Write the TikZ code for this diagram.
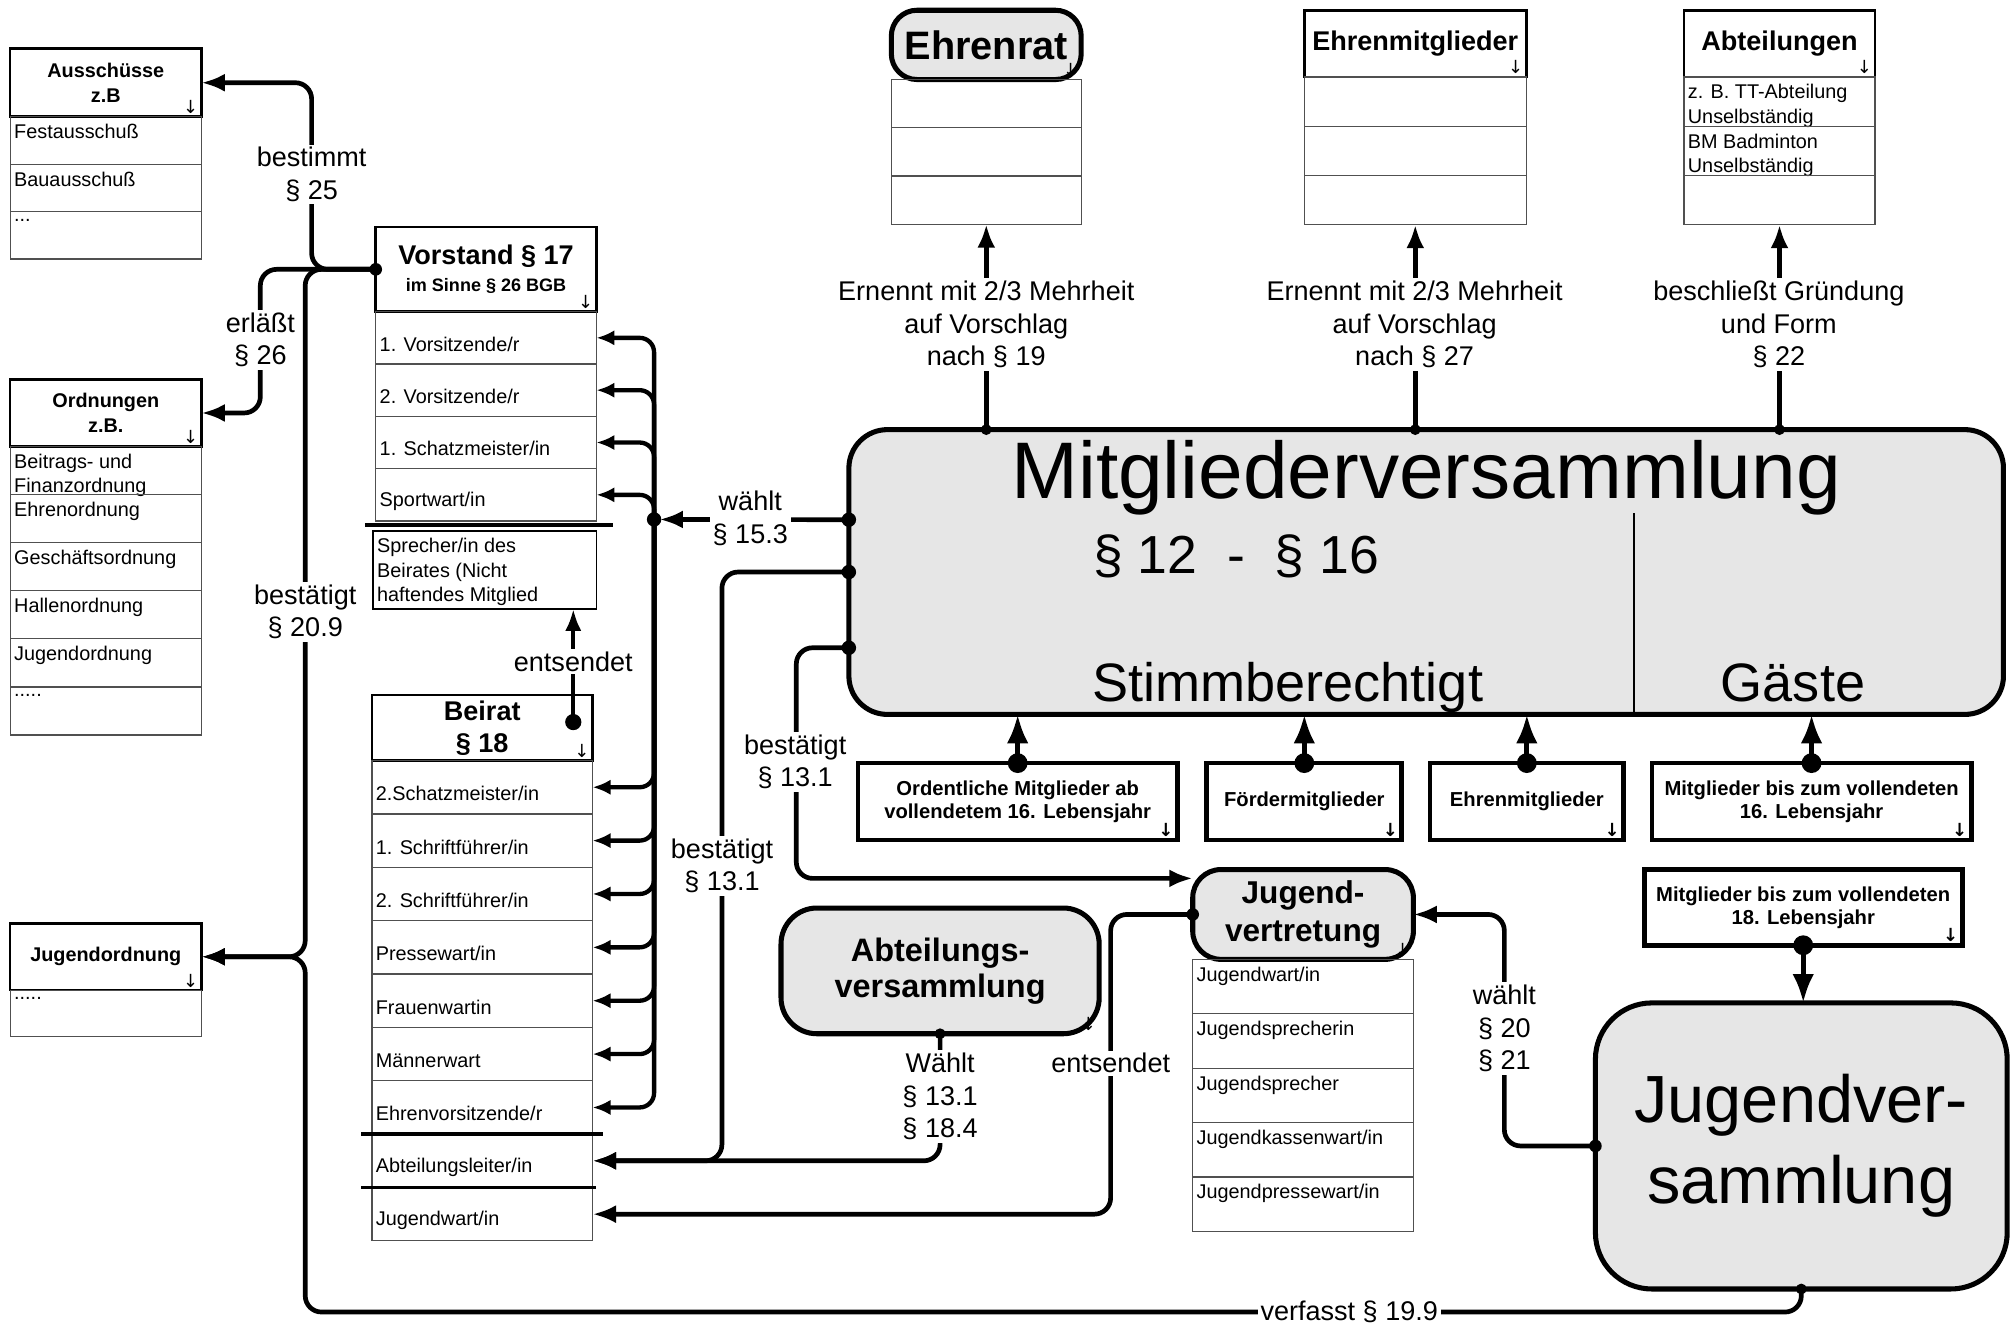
\documentclass[tikz,border=0pt]{standalone}
\usepackage{fontspec}
\setmainfont{Liberation Sans}
\newfontfamily\symb{DejaVu Sans}
\usepackage{xcolor}
\definecolor{boxgray}{RGB}{230,230,230}
\definecolor{rowline}{RGB}{80,80,80}
\usetikzlibrary{arrows.meta}
\usetikzlibrary{positioning}

\begin{document}
\begin{tikzpicture}[x=0.025cm, y=-0.025cm,
  hdr/.style={draw, line width=1.4pt, fill=white, outer sep=0pt, inner sep=2pt, align=center, font=\bfseries\fontsize{11}{13.5}\selectfont, downmark},
  row/.style={draw=rowline, line width=0.7pt, outer sep=0pt, inner sep=0pt, minimum width=#1},
  toptxt/.style={label={[anchor=north west, inner sep=2pt, yshift=-2pt, align=left, font=\fontsize{11}{13.5}\selectfont]north west:#1}},
  midtxt/.style={label={[anchor=west, inner sep=2pt, yshift=-3.5pt, align=left, font=\fontsize{11}{13.5}\selectfont]west:#1}},
  downmark/.style={label={[anchor=south east, inner sep=1.5pt, font=\symb\fontsize{10}{10}\selectfont]south east:↓}},
  grp/.style={draw, line width=2.8pt, fill=boxgray, outer sep=0pt, rounded corners=#1, align=center},
  member/.style={draw, line width=2.6pt, fill=white, outer sep=0pt, align=center, font=\bfseries\fontsize{11.2}{12.8}\selectfont, label={[anchor=south east, inner sep=2pt, font=\symb\bfseries\fontsize{10}{10}\selectfont]south east:↓}},
  lbl/.style={fill=white, inner sep=1.5pt, align=center, font=\fontsize{15}{18}\selectfont},
  conn/.style={line width=2.6pt, rounded corners=9pt, -{Latex[length=13pt,width=10pt]}},
  rowconn/.style={line width=2.4pt, rounded corners=8pt, -{Latex[length=10pt,width=8.5pt]}},
  bigconn/.style={line width=2.8pt, -{Latex[length=16pt,width=12pt]}},
  sepline/.style={line width=2.2pt}
]
\useasboundingbox (0,0) rectangle (1568,1035);

% Ausschuesse
\node[hdr, minimum width=3.725cm, minimum height=1.325cm] (aus) at (82.5,64.5) {Ausschüsse\\z.B};
\node[row=3.725cm, minimum height=0.925cm, toptxt=Festausschuß, below=0pt of aus] (aus1) {};
\node[row=3.725cm, minimum height=0.925cm, toptxt=Bauausschuß, below=0pt of aus1] (aus2) {};
\node[row=3.725cm, minimum height=0.925cm, toptxt=..., below=0pt of aus2] (aus3) {};

% Ordnungen
\node[hdr, minimum width=3.725cm, minimum height=1.3cm] (ord) at (82.5,322) {Ordnungen\\z.B.};
\node[row=3.725cm, minimum height=0.9375cm, toptxt={Beitrags- und\\Finanzordnung}, below=0pt of ord] (ord1) {};
\node[row=3.725cm, minimum height=0.9375cm, toptxt=Ehrenordnung, below=0pt of ord1] (ord2) {};
\node[row=3.725cm, minimum height=0.9375cm, toptxt=Geschäftsordnung, below=0pt of ord2] (ord3) {};
\node[row=3.725cm, minimum height=0.9375cm, toptxt=Hallenordnung, below=0pt of ord3] (ord4) {};
\node[row=3.725cm, minimum height=0.9375cm, toptxt=Jugendordnung, below=0pt of ord4] (ord5) {};
\node[row=3.725cm, minimum height=0.9375cm, toptxt=....., below=0pt of ord5] (ord6) {};

% Jugendordnung
\node[hdr, minimum width=3.725cm, minimum height=1.3cm] (jo) at (82.5,746) {Jugendordnung};
\node[row=3.725cm, minimum height=0.9cm, toptxt=....., below=0pt of jo] (jo1) {};

% Vorstand
\node[hdr, minimum width=4.3cm, minimum height=1.65cm, font=\bfseries\fontsize{15}{15}\selectfont] (vor) at (379,210) {Vorstand § 17\\{\fontsize{10}{12}\selectfont im Sinne § 26 BGB}};
\node[row=4.3cm, minimum height=1.02cm, midtxt=1. Vorsitzende/r, below=0pt of vor] (vor1) {};
\node[row=4.3cm, minimum height=1.02cm, midtxt=2. Vorsitzende/r, below=0pt of vor1] (vor2) {};
\node[row=4.3cm, minimum height=1.02cm, midtxt=1. Schatzmeister/in, below=0pt of vor2] (vor3) {};
\node[row=4.3cm, minimum height=1.02cm, midtxt=Sportwart/in, below=0pt of vor3] (vor4) {};
\draw[sepline] ([shift={(-6pt,-2pt)}]vor4.south west) -- ([shift={(9pt,-2pt)}]vor4.south east);
\node[row=4.35cm, minimum height=1.525cm, draw=black, line width=1pt, toptxt={Sprecher/in des\\Beirates (Nicht\\haftendes Mitglied}] (spr) at (378,444.5) {};

% Beirat
\node[hdr, minimum width=4.3cm, minimum height=1.275cm, font=\bfseries\fontsize{15}{17.8}\selectfont] (bei) at (376,567.5) {Beirat\\§ 18};
\node[row=4.3cm, minimum height=1.04cm, midtxt=2.Schatzmeister/in, below=0pt of bei] (bei1) {};
\node[row=4.3cm, minimum height=1.04cm, midtxt=1. Schriftführer/in, below=0pt of bei1] (bei2) {};
\node[row=4.3cm, minimum height=1.04cm, midtxt=2. Schriftführer/in, below=0pt of bei2] (bei3) {};
\node[row=4.3cm, minimum height=1.04cm, midtxt=Pressewart/in, below=0pt of bei3] (bei4) {};
\node[row=4.3cm, minimum height=1.04cm, midtxt=Frauenwartin, below=0pt of bei4] (bei5) {};
\node[row=4.3cm, minimum height=1.04cm, midtxt=Männerwart, below=0pt of bei5] (bei6) {};
\node[row=4.3cm, minimum height=1.04cm, midtxt=Ehrenvorsitzende/r, below=0pt of bei6] (bei7) {};
\node[row=4.3cm, minimum height=1.04cm, midtxt=Abteilungsleiter/in, below=0pt of bei7] (bei8) {};
\node[row=4.3cm, minimum height=1.04cm, midtxt=Jugendwart/in, below=0pt of bei8] (bei9) {};
\draw[sepline] ([xshift=-6pt]bei7.south west) -- ([xshift=6pt]bei7.south east);
\draw[sepline] ([xshift=-6pt]bei8.south west) -- ([xshift=2pt]bei8.south east);

% top row
\node[grp=0.5cm, minimum width=3.7cm, minimum height=1.35cm, font=\bfseries\fontsize{22}{24}\selectfont, downmark] (ehr) at (769,35) {Ehrenrat};
\node[row=3.7cm, minimum height=0.94cm, below=0pt of ehr] (ehr1) {};
\node[row=3.7cm, minimum height=0.94cm, below=0pt of ehr1] (ehr2) {};
\node[row=3.7cm, minimum height=0.94cm, below=0pt of ehr2] (ehr3) {};

\node[hdr, minimum width=4.325cm, minimum height=1.3cm, font=\bfseries\fontsize{15}{17}\selectfont] (ehm) at (1103.5,34) {Ehrenmitglieder};
\node[row=4.325cm, minimum height=0.96cm, below=0pt of ehm] (ehm1) {};
\node[row=4.325cm, minimum height=0.96cm, below=0pt of ehm1] (ehm2) {};
\node[row=4.325cm, minimum height=0.96cm, below=0pt of ehm2] (ehm3) {};

\node[hdr, minimum width=3.725cm, minimum height=1.3cm, font=\bfseries\fontsize{15}{17}\selectfont] (abt) at (1387.5,34) {Abteilungen};
\node[row=3.725cm, minimum height=0.96cm, toptxt={z. B. TT-Abteilung\\Unselbständig}, below=0pt of abt] (abt1) {};
\node[row=3.725cm, minimum height=0.96cm, toptxt={BM Badminton\\Unselbständig}, below=0pt of abt1] (abt2) {};
\node[row=3.725cm, minimum height=0.96cm, below=0pt of abt2] (abt3) {};

% Mitgliederversammlung
\node[grp=0.75cm, minimum width=22.5cm, minimum height=5.55cm] (mv) at (1112,446) {};
\node[inner sep=0pt, anchor=base, font=\fontsize{44.5}{50}\selectfont] (mvtitle) at (1112,389) {Mitgliederversammlung};
\node[inner sep=0pt, anchor=base west, font=\fontsize{29.7}{32}\selectfont] (mvpar) at (852,447) {§ 12\ \ -\ \ § 16};
\node[inner sep=0pt, anchor=base, font=\fontsize{30}{32}\selectfont] (mvstimm) at (1004,547) {Stimmberechtigt};
\node[inner sep=0pt, anchor=base, font=\fontsize{30}{32}\selectfont] (mvgast) at (1398,547) {Gäste};
\draw[line width=0.9pt] (1274,400) -- (1274,557);

% Mitglieder
\node[member, minimum width=6.225cm, minimum height=1.5cm] (om) at (793.5,625) {Ordentliche Mitglieder ab\\vollendetem 16. Lebensjahr};
\node[member, minimum width=3.8cm, minimum height=1.5cm] (fm) at (1017,625) {Fördermitglieder};
\node[member, minimum width=3.775cm, minimum height=1.5cm] (em) at (1190.5,625) {Ehrenmitglieder};
\node[member, minimum width=6.225cm, minimum height=1.5cm] (mg16) at (1412.5,625) {Mitglieder bis zum vollendeten\\16. Lebensjahr};
\node[member, minimum width=6.2cm, minimum height=1.475cm] (mg18) at (1406,707.5) {Mitglieder bis zum vollendeten\\18. Lebensjahr};

% Jugend
\node[grp=1.1cm, minimum width=8.025cm, minimum height=5.575cm, font=\fontsize{37}{44.8}\selectfont] (jvs) at (1404.5,893.5) {Jugendver-\\sammlung};
\node[grp=0.55cm, minimum width=4.3cm, minimum height=1.75cm, font=\bfseries\fontsize{17.5}{20.6}\selectfont, downmark] (jvt) at (1016,713) {Jugend-\\vertretung};
\node[row=4.3cm, minimum height=1.06cm, toptxt=Jugendwart/in, below=0pt of jvt] (jvt1) {};
\node[row=4.3cm, minimum height=1.06cm, toptxt=Jugendsprecherin, below=0pt of jvt1] (jvt2) {};
\node[row=4.3cm, minimum height=1.06cm, toptxt=Jugendsprecher, below=0pt of jvt2] (jvt3) {};
\node[row=4.3cm, minimum height=1.06cm, toptxt=Jugendkassenwart/in, below=0pt of jvt3] (jvt4) {};
\node[row=4.3cm, minimum height=1.06cm, toptxt=Jugendpressewart/in, below=0pt of jvt4] (jvt5) {};
\node[grp=0.7cm, minimum width=6.2cm, minimum height=2.45cm, font=\bfseries\fontsize{18}{20}\selectfont, downmark] (av) at (733,757) {Abteilungs-\\versammlung};

% Vorstand nach links
\draw[conn] (vor.west) -- ++(-50,0) |- (aus.east);
\draw[conn] (vor.west) -- ++(-90,0) |- (ord.east);
\draw[conn] (vor.west) -- ++(-55,0) |- (jo.east);
\coordinate (vbend) at (238,1023);
\draw[conn] (jvs.south) |- (vbend) |- (jo.east);
\fill (vor.west) circle (3.5pt);
\fill (jvs.south) circle (3pt);

% waehlt
\coordinate (bus) at (510,405);
\draw[conn, shorten >=3pt] ([yshift=29pt]mv.west) -- (bus);
\draw[rowconn] (bus) |- (vor1.east);
\draw[rowconn] (bus) |- (vor2.east);
\draw[rowconn] (bus) |- (vor3.east);
\draw[rowconn] (bus) |- (vor4.east);
\draw[rowconn] (bus) |- (bei1.east);
\draw[rowconn] (bus) |- (bei2.east);
\draw[rowconn] (bus) |- (bei3.east);
\draw[rowconn] (bus) |- (bei4.east);
\draw[rowconn] (bus) |- (bei5.east);
\draw[rowconn] (bus) |- (bei6.east);
\draw[rowconn] (bus) |- (bei7.east);
\fill ([yshift=29pt]mv.west) circle (4pt);
\fill (bus) circle (4pt);

% bestaetigt / waehlt / entsendet
\draw[conn] (mv.west) -- ++(-99,0) |- (bei8.east);
\draw[conn] (av.south) |- (bei8.east);
\draw[conn] ([yshift=-42pt]mv.west) -- ++(-41,0) |- ([yshift=20pt]jvt.west);
\draw[conn] (jvt.west) -- ++(-64,0) |- (bei9.east);
\draw[conn] (jvs.west) -- ++(-71,0) |- (jvt.east);
\fill (mv.west) circle (4pt);
\fill ([yshift=-42pt]mv.west) circle (4pt);
\fill (av.south) circle (3pt);
\fill (jvt.west) circle (3.5pt);
\fill (jvs.west) circle (3.5pt);

\coordinate (beidot) at (447,563);
\draw[line width=2pt, -{Latex[length=12pt,width=9pt]}] (beidot) -- (beidot |- spr.south);
\fill (beidot) circle (4.5pt);

% Mitglieder in die Versammlung
\draw[bigconn] (om.north) -- (om.north |- mv.south);
\draw[bigconn] (fm.north) -- (fm.north |- mv.south);
\draw[bigconn] (em.north) -- (em.north |- mv.south);
\draw[bigconn] (mg16.north) -- (mg16.north |- mv.south);
\draw[bigconn] (mg18.south) -- (mg18.south |- jvs.north);
\fill (om.north) circle (5.5pt);
\fill (fm.north) circle (5.5pt);
\fill (em.north) circle (5.5pt);
\fill (mg16.north) circle (5.5pt);
\fill (mg18.south) circle (5.5pt);

% nach oben
\draw[conn] (ehr3.south |- mv.north) -- (ehr3.south);
\draw[conn] (ehm3.south |- mv.north) -- (ehm3.south);
\draw[conn] (abt3.south |- mv.north) -- (abt3.south);
\fill (ehr3.south |- mv.north) circle (3pt);
\fill (ehm3.south |- mv.north) circle (3pt);
\fill (abt3.south |- mv.north) circle (3pt);

% labels
\node[lbl] (lbest25) at (243,136) {bestimmt\\§ 25};
\node[lbl] (lerl26) at (203,265) {erläßt\\§ 26};
\node[lbl] (lbest209) at (238,477) {bestätigt\\§ 20.9};
\node[lbl] (lwaehlt153) at (585,404) {wählt\\§ 15.3};
\node[lbl] (lents1) at (447,516) {entsendet};
\node[lbl] (lbest131a) at (620,594) {bestätigt\\§ 13.1};
\node[lbl] (lbest131b) at (563,675) {bestätigt\\§ 13.1};
\node[lbl] (lwaehlt131) at (733,855) {Wählt\\§ 13.1\\§ 18.4};
\node[lbl] (lents2) at (866,829) {entsendet};
\node[lbl] (lwaehlt2021) at (1173,802) {wählt\\§ 20\\§ 21};
\node[lbl] (lverf) at (1052,1023) {verfasst § 19.9};
\node[lbl] (lern19) at (769,253) {Ernennt mit 2/3 Mehrheit\\auf Vorschlag\\nach § 19};
\node[lbl] (lern27) at (1103,253) {Ernennt mit 2/3 Mehrheit\\auf Vorschlag\\nach § 27};
\node[lbl] (lbeschl) at (1387,253) {beschließt Gründung\\und Form\\§ 22};
\end{tikzpicture}
\end{document}
